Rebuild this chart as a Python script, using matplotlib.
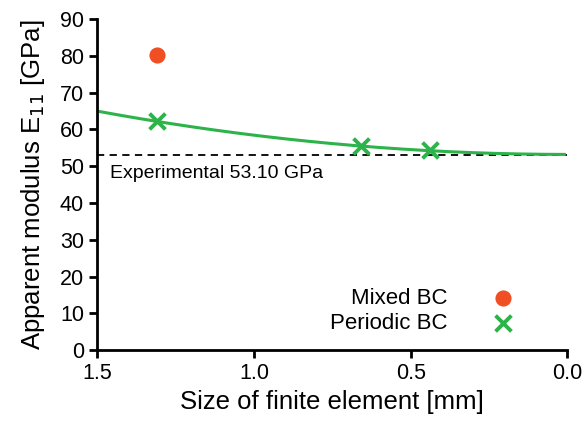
import numpy as np
import matplotlib.pyplot as plt

plt.rcParams['font.family'] = ['Liberation Sans', 'DejaVu Sans']

# element size [mm] and apparent modulus [GPa]
mixed_h = [1.31]
mixed_E = [80.3]
periodic_h = [1.31, 0.66, 0.44]
periodic_E = [62.2, 55.4, 54.3]
experimental_E = 53.10

# quadratic convergence fit E = c + a*h^2 through the periodic results
a, c = np.polyfit(np.array(periodic_h) ** 2, periodic_E, 1)
h_fit = np.linspace(1.5, 0.01, 200)
E_fit = c + a * h_fit ** 2

fig, ax = plt.subplots(figsize=(5.82, 4.23), dpi=100)
fig.subplots_adjust(left=0.167, right=0.975, bottom=0.172, top=0.955)

ax.axhline(experimental_E, color='black', ls=(0, (4, 3)), lw=1.3, zorder=1)
ax.plot(h_fit, E_fit, color='#2db34a', lw=2.2, zorder=2)
ax.scatter(mixed_h, mixed_E, s=135, color='#f04e23', marker='o', lw=0,
           label='Mixed BC', zorder=3)
ax.scatter(periodic_h, periodic_E, s=130, color='#2db34a', marker='x', lw=2.8,
           label='Periodic BC', zorder=3)

ax.text(1.46, 50.4, 'Experimental 53.10 GPa', fontsize=14, va='top', ha='left')

ax.set_xlim(1.5, 0.0)
ax.set_ylim(0, 90)
ax.set_xticks([1.5, 1.0, 0.5, 0.0])
ax.set_xticklabels(['1.5', '1.0', '0.5', '0.0'])
ax.set_yticks(range(0, 91, 10))
ax.spines['top'].set_visible(False)
ax.spines['right'].set_visible(False)
for s in ['left', 'bottom']:
    ax.spines[s].set_linewidth(2)
ax.tick_params(width=2, length=6, labelsize=15.5)

ax.set_xlabel('Size of finite element [mm]', fontsize=18.5)
ax.set_ylabel('Apparent modulus E$_{11}$ [GPa]', fontsize=18.5, labelpad=9)

ax.legend(loc='lower right', frameon=False, markerfirst=False, fontsize=16,
          handletextpad=1.5, labelspacing=0.15, bbox_to_anchor=(0.953, -0.01))

fig.savefig('out.png', dpi=100)
